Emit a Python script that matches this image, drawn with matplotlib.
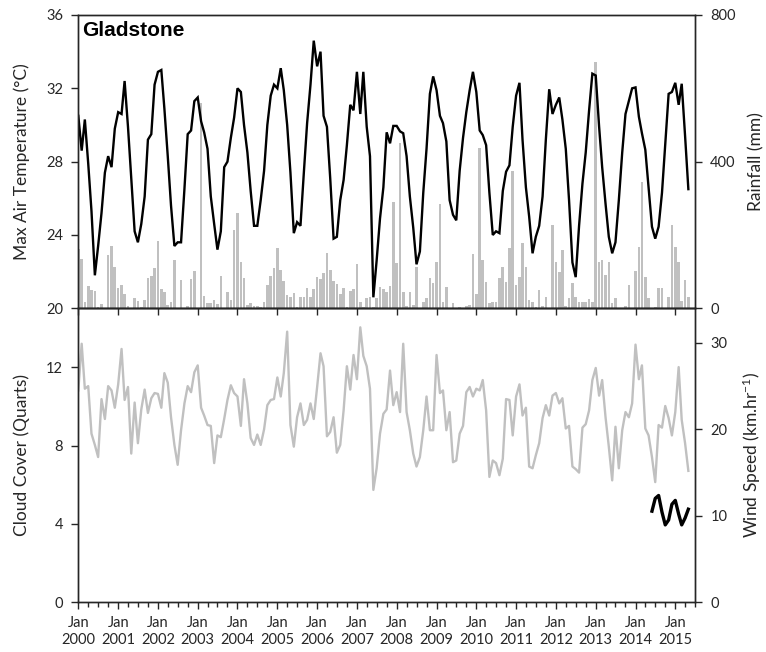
import numpy as np
import pandas as pd
import matplotlib
matplotlib.use("Agg")
import matplotlib.pyplot as plt
import matplotlib.dates as mdates

# Monthly series, Jan 2000 - May 2015
months = pd.date_range("2000-01-01", "2015-05-01", freq="MS")

max_temp = [
    30.5, 28.6, 30.3, 27.9, 25.3, 21.8, 23.4, 25.2, 27.4, 28.3, 27.7, 29.8,   # 2000
    30.7, 30.6, 32.4, 29.9, 27.1, 24.2, 23.6, 24.6, 26.1, 29.2, 29.5, 32.2,   # 2001
    32.9, 33.0, 30.9, 28.3, 25.6, 23.4, 23.6, 23.6, 26.5, 29.5, 29.7, 31.3,   # 2002
    31.5, 30.2, 29.6, 28.7, 26.1, 24.6, 23.2, 24.2, 27.7, 28.0, 29.3, 30.4,   # 2003
    32.0, 31.8, 30.0, 28.5, 26.4, 24.5, 24.5, 25.9, 27.5, 30.0, 31.6, 32.2,   # 2004
    32.0, 33.1, 31.9, 30.0, 27.4, 24.1, 24.7, 24.5, 27.4, 30.1, 32.2, 34.6,   # 2005
    33.2, 34.0, 30.5, 29.9, 27.1, 23.8, 23.9, 25.9, 27.0, 28.9, 31.1, 30.8,   # 2006
    32.9, 30.6, 32.9, 29.9, 28.3, 20.6, 22.6, 24.9, 26.6, 29.6, 29.0, 29.95,  # 2007
    29.95, 29.65, 29.55, 28.3, 26.1, 24.4, 22.4, 23.1, 26.3, 28.7, 31.7, 32.65,  # 2008
    31.9, 30.5, 30.1, 29.1, 25.9, 25.1, 24.8, 27.5, 29.3, 30.7, 31.9, 32.9,   # 2009
    31.8, 29.7, 29.45, 28.9, 26.3, 24.0, 24.2, 24.1, 26.4, 27.45, 27.8, 29.9,  # 2010
    31.6, 32.3, 29.2, 26.6, 25.0, 23.0, 23.9, 24.5, 26.1, 29.2, 31.95, 30.6,  # 2011
    31.1, 31.5, 30.3, 28.7, 25.9, 22.5, 21.7, 24.5, 26.8, 28.5, 30.8, 32.8,   # 2012
    32.7, 29.9, 27.7, 25.7, 23.9, 23.0, 23.6, 25.9, 28.5, 30.6, 31.3, 32.0,   # 2013
    32.05, 30.45, 29.55, 28.65, 26.6, 24.45, 23.8, 24.45, 26.3, 29.0, 31.7, 31.8,  # 2014
    32.3, 31.1, 32.25, 29.4, 26.5,                                            # 2015
]

rainfall = [
    161, 134, 18, 60, 50, 48, 4, 11, 2, 146, 169, 114,      # 2000
    56, 63, 39, 5, 2, 29, 19, 3, 23, 82, 88, 111,           # 2001
    184, 53, 45, 8, 18, 132, 1, 77, 1, 6, 79, 103,          # 2002
    2, 561, 34, 15, 15, 23, 12, 88, 1, 45, 23, 214,         # 2003
    259, 125, 82, 10, 15, 6, 5, 4, 16, 64, 87, 110,         # 2004
    165, 105, 75, 35, 30, 43, 4, 30, 31, 55, 32, 52,        # 2005
    86, 79, 96, 150, 105, 75, 66, 40, 55, 4, 47, 52,        # 2006
    121, 18, 4, 27, 30, 4, 29, 59, 52, 45, 61, 291,         # 2007
    123, 452, 45, 5, 45, 9, 112, 1, 18, 27, 82, 68,         # 2008
    127, 284, 18, 59, 1, 15, 1, 3, 1, 5, 9, 147,            # 2009
    38, 437, 132, 73, 14, 17, 17, 82, 114, 73, 164, 375,    # 2010
    64, 86, 179, 114, 23, 18, 3, 50, 5, 32, 2, 227,         # 2011
    127, 100, 159, 5, 27, 70, 32, 18, 18, 18, 25, 18,       # 2012
    671, 127, 132, 91, 127, 14, 27, 0, 1, 5, 64, 1,         # 2013
    103, 167, 344, 86, 27, 1, 3, 56, 56, 0, 30, 227,        # 2014
    168, 127, 21, 77, 32,                                   # 2015
]

wind_speed = [
    24.5, 29.9, 24.7, 25.0, 19.5, 18.2, 16.8, 23.5, 21.2, 25.0, 24.5, 22.5,  # 2000
    25.2, 29.3, 23.4, 24.9, 17.2, 23.1, 18.4, 22.3, 24.6, 21.9, 23.6, 24.2,  # 2001
    24.1, 22.5, 26.5, 25.4, 21.4, 18.2, 15.9, 19.9, 23.0, 25.0, 24.3, 26.6,  # 2002
    27.4, 22.5, 21.6, 20.5, 20.4, 16.1, 19.3, 19.1, 21.2, 23.4, 25.1, 24.2,  # 2003
    23.8, 20.4, 25.8, 23.0, 19.0, 18.2, 19.4, 18.2, 20.0, 22.8, 23.4, 23.5,  # 2004
    26.0, 23.8, 26.5, 31.3, 20.5, 18.0, 21.4, 23.0, 20.5, 21.1, 23.0, 21.2,  # 2005
    24.9, 28.8, 27.3, 19.2, 19.7, 21.4, 17.3, 18.2, 22.2, 27.3, 24.6, 28.6,  # 2006
    25.8, 31.8, 28.5, 27.3, 24.7, 13.0, 15.5, 19.5, 21.8, 22.3, 26.8, 22.8,  # 2007
    24.3, 22.0, 29.9, 22.0, 19.9, 17.2, 15.7, 16.8, 19.9, 23.8, 19.9, 19.9,  # 2008
    28.6, 24.2, 24.5, 19.9, 22.0, 16.2, 16.4, 19.5, 20.4, 24.3, 24.9, 23.8,  # 2009
    24.7, 24.5, 25.7, 22.2, 14.5, 16.4, 16.1, 14.7, 16.6, 23.5, 23.4, 19.3,  # 2010
    23.8, 25.2, 21.6, 22.5, 15.7, 15.5, 17.0, 18.4, 21.3, 22.8, 21.6, 23.9,  # 2011
    24.2, 23.0, 23.6, 20.1, 20.4, 15.7, 15.4, 15.0, 20.2, 20.6, 22.2, 25.7,  # 2012
    27.1, 23.9, 25.7, 21.4, 18.0, 14.1, 20.3, 15.5, 19.9, 22.0, 21.4, 23.0,  # 2013
    29.8, 25.8, 27.4, 20.1, 19.3, 16.8, 13.9, 20.5, 20.2, 22.7, 21.3, 19.3,  # 2014
    22.0, 27.2, 21.1, 18.4, 15.2,                                            # 2015
]

# Cloud cover record only covers the last year
cloud_months = pd.date_range("2014-06-01", "2015-05-01", freq="MS")
cloud_cover = [4.65, 5.3, 5.45, 4.6, 3.95, 4.2, 5.0, 5.2, 4.5, 3.95, 4.3, 4.75]

temp_ticks = [20, 24, 28, 32, 36]
rain_ticks = [0, 400, 800]
cloud_ticks = [0, 4, 8, 12]
wind_ticks = [0, 10, 20, 30]

plt.rcParams['font.family'] = ['Lato', 'DejaVu Sans']
plt.rcParams['font.size'] = 10.5
plt.rcParams['mathtext.fontset'] = 'custom'
plt.rcParams['mathtext.rm'] = 'Lato'
plt.rcParams['mathtext.it'] = 'Lato'
plt.rcParams['mathtext.default'] = 'rm'

INK = '#262626'
GREY = '#c0c0c0'
TICK_FS = 10.5
LABEL_FS = 12.5

W, H = 766, 652
fig = plt.figure(figsize=(W / 100, H / 100), dpi=100)
x0, x1 = 78.3 / W, 695 / W
ax_t = fig.add_axes([x0, 1 - 308.3 / H, x1 - x0, (308.3 - 15) / H])
ax_b = fig.add_axes([x0, 1 - 602.3 / H, x1 - x0, (602.3 - 308.3) / H])
ax_r = ax_t.twinx()
ax_w = ax_b.twinx()

xlim = (pd.Timestamp("2000-01-01"), pd.Timestamp("2015-07-01"))

# --- top panel: rainfall bars behind max temperature line
ax_r.bar(months, rainfall, width=24, color=GREY, align='center', linewidth=0)
ax_t.plot(months, max_temp, color='black', lw=1.7, solid_joinstyle='miter')
ax_t.set_zorder(ax_r.get_zorder() + 1)
ax_t.patch.set_visible(False)

ax_t.set_ylim(20, 36)
ax_t.set_yticks(temp_ticks)
ax_r.set_ylim(0, 800)
ax_r.set_yticks(rain_ticks)

# --- bottom panel: wind speed (grey) and cloud cover (black)
ax_w.plot(months, wind_speed, color=GREY, lw=1.7)
ax_b.plot(cloud_months, cloud_cover, color='black', lw=2.4)
ax_b.set_zorder(ax_w.get_zorder() + 1)
ax_b.patch.set_visible(False)

ax_b.set_ylim(0, 15)
ax_b.set_yticks(cloud_ticks)
ax_w.set_ylim(0, 34)
ax_w.set_yticks(wind_ticks)

for ax in (ax_t, ax_r, ax_b, ax_w):
    ax.set_xlim(*xlim)
    for sp in ax.spines.values():
        sp.set_color(INK)
        sp.set_linewidth(1.0)
    ax.tick_params(axis='y', direction='out', length=5, width=1.0,
                   colors=INK, labelcolor=INK, pad=6, labelsize=TICK_FS)

# x ticks: top panel majors only, no labels
for ax in (ax_t, ax_r):
    ax.xaxis.set_major_locator(mdates.YearLocator())
    ax.xaxis.set_minor_locator(mdates.MonthLocator(bymonth=[4, 7, 10]))
    ax.tick_params(axis='x', which='major', direction='out', length=5,
                   width=1.0, color=INK, labelbottom=False)
    ax.tick_params(axis='x', which='minor', length=0)

for ax in (ax_b, ax_w):
    ax.xaxis.set_major_locator(mdates.YearLocator())
    ax.xaxis.set_minor_locator(mdates.MonthLocator(bymonth=[4, 7, 10]))
    ax.xaxis.set_major_formatter(mdates.DateFormatter('%b\n%Y'))
    ax.tick_params(axis='x', which='major', direction='out', length=5,
                   width=1.0, color=INK, labelcolor=INK, pad=5,
                   labelsize=TICK_FS)
    ax.tick_params(axis='x', which='minor', direction='out', length=3.5,
                   width=1.0, color=INK)
ax_w.tick_params(axis='x', labelbottom=False)
for lab in ax_b.get_xticklabels():
    lab.set_linespacing(1.25)

# axis titles
ax_t.set_ylabel("Max Air Temperature (°C)", color=INK, fontsize=LABEL_FS)
ax_t.yaxis.set_label_coords(-0.078, 0.5)
ax_b.set_ylabel("Cloud Cover (Quarts)", color=INK, fontsize=LABEL_FS)
ax_b.yaxis.set_label_coords(-0.078, 0.5)
ax_r.set_ylabel("Rainfall (mm)", color=INK, fontsize=LABEL_FS)
ax_r.yaxis.set_label_coords(1.086, 0.5)
ax_w.set_ylabel("Wind Speed (km.hr$^{-1}$)", color=INK, fontsize=LABEL_FS)
ax_w.yaxis.set_label_coords(1.074, 0.5)

ax_t.text(0.007, 0.978, "Gladstone", transform=ax_t.transAxes,
          ha='left', va='top', fontsize=15, fontweight='bold',
          family=['Liberation Sans', 'DejaVu Sans'], color='black')

fig.savefig("out.png", dpi=100)
